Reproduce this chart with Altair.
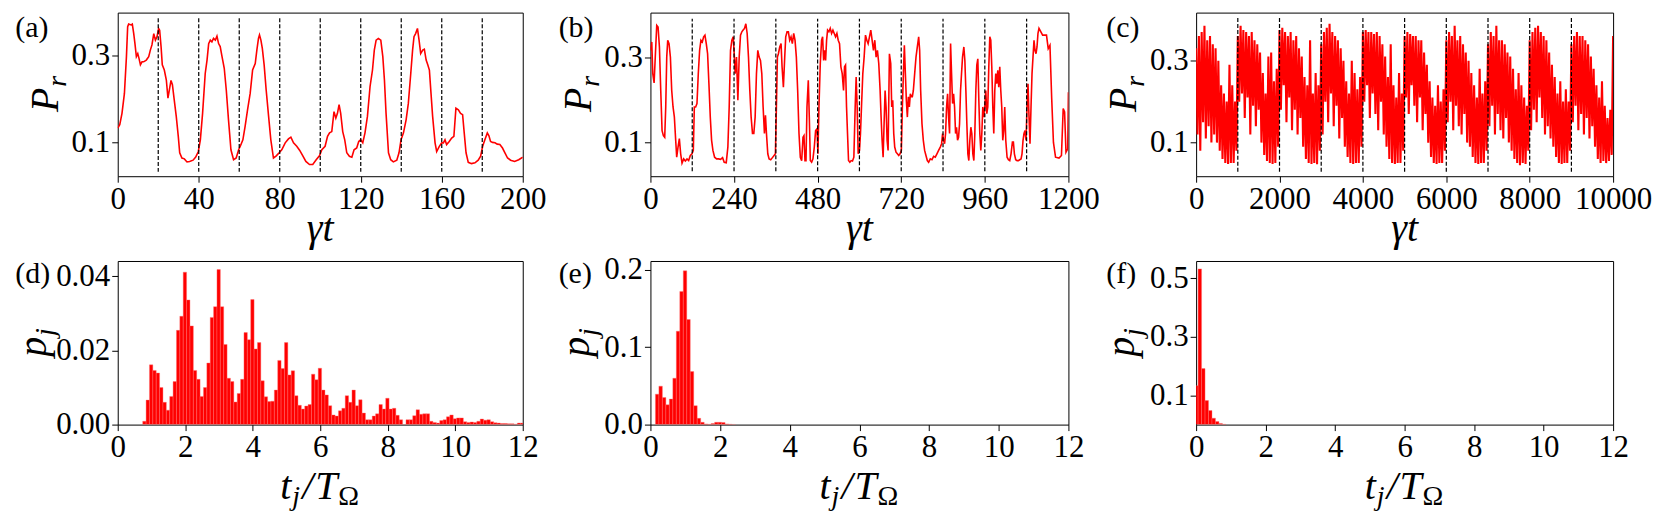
import altair as alt
import numpy as np
import pandas as pd

FONT = "Liberation Serif"
RED = "#ff0000"

# ---------------- (a) P_r vs gamma t, 0..200 ----------------
a_t = [0, 1, 2.1, 3.3, 4.3, 4.9, 5.4, 6.6, 7.2, 7.9,
       8.5, 9.2, 9.9, 10.5, 11.2, 12.0, 12.8, 14.1, 15.3, 16.1,
       16.9, 17.8, 18.6, 19.4, 20.2, 20.7, 21.4, 22.0, 23.0, 24.0,
       24.8, 25.5, 26.3, 27.0, 27.9, 28.9, 29.9, 30.6, 31.7, 32.9,
       34.2, 35.5, 37.2, 38.5, 39.8, 40.8, 41.9, 43.2, 44.1, 44.9,
       45.7, 46.5, 47.3, 48.2, 49.0, 49.8, 50.6, 51.5, 52.6, 53.6,
       54.7, 55.9, 57.2, 58.5, 59.7, 60.5, 61.8, 62.9, 64.1, 65.4,
       66.6, 67.9, 68.7, 69.5, 70.0, 70.7, 71.4, 72.3, 73.3, 74.5,
       75.6, 76.9, 78.3, 79.7, 81.0, 82.7, 84.3, 85.5, 86.8, 88.4,
       89.8, 91.4, 92.9, 94.7, 96.3, 98.0, 99.6, 100.8, 102.4, 103.6,
       104.6, 105.7, 106.8, 107.7, 108.5, 109.3, 110.1, 111.1, 112.1, 113.1,
       114.4, 115.6, 116.7, 118.0, 119.0, 120.0, 121.0, 122.1, 123.3, 124.6,
       125.8, 126.7, 127.6, 128.7, 129.9, 130.9, 131.7, 132.5, 133.7, 134.8,
       136.1, 137.8, 138.9, 139.9, 141.1, 142.4, 143.5, 144.7, 145.6, 146.3,
       147.1, 148.0, 148.8, 149.6, 150.6, 151.4, 152.3, 153.1, 153.9, 154.7,
       155.5, 156.7, 157.5, 158.8, 160.0, 160.8, 161.6, 162.4, 163.7, 164.9,
       166.0, 167.0, 168.2, 169.3, 170.3, 171.1, 172.0, 173.1, 174.7, 176.4,
       178.0, 179.2, 180.2, 181.3, 182.5, 183.3, 184.1, 185.1, 186.3, 187.4,
       188.7, 190.0, 191.2, 192.5, 194.0, 196.0, 198.0, 200.0]
a_v = [0.133, 0.141, 0.167, 0.213, 0.298, 0.367, 0.373, 0.371, 0.373, 0.351,
       0.328, 0.298, 0.305, 0.294, 0.279, 0.286, 0.286, 0.290, 0.298, 0.313,
       0.325, 0.351, 0.336, 0.344, 0.363, 0.359, 0.321, 0.279, 0.267, 0.244,
       0.202, 0.221, 0.243, 0.233, 0.198, 0.160, 0.114, 0.076, 0.064, 0.062,
       0.055, 0.056, 0.059, 0.066, 0.079, 0.106, 0.167, 0.259, 0.290, 0.328,
       0.336, 0.332, 0.340, 0.336, 0.345, 0.328, 0.321, 0.298, 0.271, 0.221,
       0.152, 0.083, 0.060, 0.064, 0.083, 0.091, 0.106, 0.137, 0.175, 0.213,
       0.267, 0.282, 0.313, 0.340, 0.348, 0.336, 0.317, 0.279, 0.221, 0.160,
       0.106, 0.064, 0.069, 0.076, 0.083, 0.099, 0.108, 0.112, 0.099, 0.091,
       0.082, 0.069, 0.056, 0.049, 0.049, 0.060, 0.069, 0.083, 0.091, 0.114,
       0.122, 0.125, 0.171, 0.156, 0.167, 0.187, 0.167, 0.125, 0.106, 0.076,
       0.068, 0.066, 0.083, 0.087, 0.102, 0.106, 0.099, 0.122, 0.160, 0.229,
       0.267, 0.313, 0.336, 0.340, 0.336, 0.298, 0.244, 0.167, 0.076, 0.060,
       0.055, 0.059, 0.076, 0.106, 0.122, 0.152, 0.190, 0.259, 0.313, 0.344,
       0.351, 0.363, 0.336, 0.305, 0.313, 0.315, 0.290, 0.279, 0.267, 0.213,
       0.160, 0.099, 0.079, 0.091, 0.099, 0.099, 0.106, 0.095, 0.102, 0.110,
       0.114, 0.179, 0.175, 0.167, 0.164, 0.122, 0.076, 0.054, 0.051, 0.053,
       0.059, 0.068, 0.091, 0.106, 0.122, 0.115, 0.102, 0.100, 0.099, 0.096,
       0.095, 0.087, 0.076, 0.064, 0.059, 0.056, 0.060, 0.066]
a_dash = [20, 40, 60, 80, 100, 120, 140, 160, 180]

# ---------------- (b) P_r vs gamma t, 0..1200 ----------------
b_t = [0, 3.8, 6.7, 10.5, 14.3, 18.1, 21.9, 25.8, 29.6, 33.4,
       37.2, 41, 43.9, 46.8, 49.6, 53.4, 57.3, 61.1, 64.9, 68.7,
       72.5, 75.4, 79.2, 83, 86.8, 90.7, 95.4, 100.2, 105, 109.7,
       114.5, 119.3, 123.1, 126, 129.8, 133.6, 137.4, 141.2, 145, 148.9,
       152.7, 156.5, 160.3, 164.1, 167.9, 171.8, 175.6, 179.4, 184.2, 189.9,
       195.6, 201.3, 207.1, 211.8, 217.6, 222.3, 226.1, 229.9, 233.8, 237.6,
       240.5, 243.3, 247.1, 251, 254.8, 258.6, 262.4, 266.2, 270, 273.9,
       277.7, 281.5, 285.3, 289.1, 293, 296.8, 300.6, 304.4, 308.2, 312.1,
       315.9, 319.7, 323.5, 327.3, 330.2, 333.1, 336.9, 340.7, 345.4, 350.2,
       355, 358.8, 361.6, 364.5, 367.4, 371.2, 375, 377.9, 381.7, 385.5,
       388.4, 392.2, 396, 399.8, 403.6, 407.4, 411.3, 415.1, 418.9, 422.7,
       426.5, 430.3, 434.2, 438, 440.8, 443.7, 446.6, 449.4, 453.2, 456.1,
       459, 462.8, 466.6, 470.4, 474.2, 478, 480.9, 483.8, 487.6, 491.4,
       494.3, 497.2, 500, 502.9, 505.7, 508.6, 512.4, 516.2, 520, 523.9,
       527.7, 531.5, 535.3, 539.1, 542.9, 546.8, 550.6, 554.4, 557.2, 560.1,
       563, 565.8, 568.7, 572.5, 576.3, 580.1, 584, 587.8, 590.6, 593.5,
       596.4, 600.2, 603, 605.9, 609.7, 613.5, 617.4, 621.2, 625, 628.8,
       632.6, 636.4, 640.3, 644.1, 647.9, 651.7, 655.5, 659.4, 662.2, 665.1,
       668, 670.8, 673.7, 676.5, 679.4, 682.3, 686.1, 689.9, 692.7, 695.6,
       698.5, 701.3, 705.1, 709, 712.8, 716.6, 720.4, 723.3, 726.2, 729,
       731.9, 734.7, 737.6, 740.5, 743.3, 746.2, 749.1, 751.9, 754.8, 758.6,
       762.4, 766.2, 770.1, 772.9, 775.8, 779.6, 783.4, 787.2, 791, 794.9,
       798.7, 803.4, 808.2, 813, 817.7, 822.5, 827.3, 832.1, 835.9, 838.8,
       841.6, 844.5, 847.3, 850.2, 853.1, 855.9, 858.8, 861.7, 864.5, 867.4,
       870.3, 873.1, 876, 878.8, 881.7, 884.6, 887.4, 890.3, 893.1, 896,
       899.8, 902.7, 905.6, 908.4, 911.3, 914.1, 917, 919.9, 922.7, 925.6,
       928.5, 931.3, 934.2, 937, 939.9, 942.8, 945.6, 948.5, 951.4, 954.2,
       957.1, 960, 962.8, 965.7, 968.5, 971.4, 974.3, 977.1, 980, 982.9,
       985.7, 988.6, 991.4, 994.3, 997.2, 1000, 1002.9, 1005.8, 1008.6, 1011.5,
       1014.3, 1017.2, 1020.1, 1023.9, 1027.7, 1031.5, 1035.3, 1039.2, 1042, 1044.9,
       1048.7, 1052.5, 1056.3, 1060.1, 1064, 1066.8, 1069.7, 1072.5, 1075.4, 1078.3,
       1081.1, 1084, 1086.9, 1089.7, 1092.6, 1095.5, 1098.3, 1101.2, 1104, 1106.9,
       1109.8, 1112.6, 1115.5, 1126, 1137, 1142, 1147, 1152, 1157, 1163,
       1173, 1180, 1185, 1189, 1193, 1198, 1200]
b_v = [0.318, 0.338, 0.263, 0.241, 0.310, 0.377, 0.373, 0.326, 0.223, 0.128,
       0.116, 0.112, 0.184, 0.302, 0.342, 0.334, 0.302, 0.223, 0.184, 0.160,
       0.105, 0.065, 0.089, 0.109, 0.073, 0.051, 0.061, 0.056, 0.061, 0.057,
       0.069, 0.073, 0.081, 0.184, 0.184, 0.192, 0.263, 0.318, 0.342, 0.338,
       0.350, 0.354, 0.334, 0.310, 0.239, 0.160, 0.105, 0.081, 0.065, 0.061,
       0.061, 0.060, 0.064, 0.053, 0.052, 0.089, 0.184, 0.318, 0.342, 0.350,
       0.310, 0.263, 0.302, 0.200, 0.302, 0.354, 0.362, 0.366, 0.370, 0.381,
       0.358, 0.302, 0.223, 0.160, 0.121, 0.121, 0.160, 0.263, 0.318, 0.302,
       0.294, 0.263, 0.184, 0.121, 0.164, 0.121, 0.073, 0.061, 0.059, 0.064,
       0.069, 0.073, 0.184, 0.302, 0.310, 0.326, 0.334, 0.279, 0.231, 0.302,
       0.350, 0.362, 0.362, 0.342, 0.350, 0.334, 0.358, 0.342, 0.302, 0.223,
       0.121, 0.065, 0.057, 0.112, 0.116, 0.057, 0.057, 0.184, 0.247, 0.160,
       0.057, 0.053, 0.061, 0.089, 0.128, 0.132, 0.073, 0.184, 0.287, 0.342,
       0.350, 0.294, 0.318, 0.294, 0.342, 0.366, 0.362, 0.370, 0.358, 0.366,
       0.358, 0.350, 0.358, 0.342, 0.334, 0.279, 0.263, 0.223, 0.279, 0.283,
       0.184, 0.121, 0.057, 0.053, 0.057, 0.056, 0.065, 0.184, 0.255, 0.184,
       0.073, 0.081, 0.121, 0.184, 0.263, 0.302, 0.354, 0.342, 0.334, 0.350,
       0.366, 0.342, 0.318, 0.342, 0.302, 0.318, 0.287, 0.223, 0.160, 0.105,
       0.065, 0.144, 0.223, 0.184, 0.105, 0.081, 0.310, 0.287, 0.184, 0.200,
       0.121, 0.089, 0.077, 0.073, 0.069, 0.073, 0.081, 0.184, 0.263, 0.330,
       0.263, 0.200, 0.160, 0.208, 0.184, 0.215, 0.208, 0.208, 0.223, 0.263,
       0.302, 0.326, 0.350, 0.318, 0.223, 0.144, 0.105, 0.081, 0.069, 0.057,
       0.053, 0.061, 0.059, 0.067, 0.065, 0.073, 0.081, 0.089, 0.097, 0.121,
       0.105, 0.097, 0.121, 0.184, 0.215, 0.160, 0.121, 0.334, 0.263, 0.192,
       0.215, 0.184, 0.121, 0.136, 0.105, 0.112, 0.144, 0.223, 0.263, 0.302,
       0.326, 0.294, 0.223, 0.144, 0.073, 0.057, 0.105, 0.136, 0.121, 0.073,
       0.057, 0.121, 0.223, 0.283, 0.298, 0.200, 0.121, 0.081, 0.121, 0.184,
       0.160, 0.184, 0.223, 0.168, 0.184, 0.279, 0.350, 0.342, 0.279, 0.184,
       0.121, 0.223, 0.263, 0.239, 0.271, 0.231, 0.279, 0.223, 0.184, 0.105,
       0.128, 0.184, 0.105, 0.065, 0.059, 0.057, 0.073, 0.101, 0.101, 0.073,
       0.059, 0.057, 0.057, 0.059, 0.061, 0.073, 0.105, 0.121, 0.128, 0.105,
       0.184, 0.239, 0.160, 0.097, 0.184, 0.263, 0.302, 0.342, 0.318, 0.310,
       0.326, 0.358, 0.370, 0.354, 0.354, 0.322, 0.330, 0.204, 0.100, 0.065,
       0.063, 0.069, 0.180, 0.172, 0.077, 0.085, 0.219]
b_dash = [120, 240, 360, 480, 600, 720, 840, 960, 1080]

# ---------------- (c) P_r vs gamma t, 0..10000 (fast oscillation, read per cycle) ----------------
c_cycle0 = [0.33, 0.12, 0.36, 0.08, 0.37, 0.15, 0.385, 0.11, 0.35, 0.14, 0.36, 0.10, 0.34, 0.12, 0.33,
            0.10, 0.30, 0.08, 0.24, 0.06, 0.22, 0.05, 0.20, 0.048, 0.29, 0.05, 0.24, 0.05, 0.20, 0.08]
c_cycle1 = [0.36, 0.20, 0.385, 0.22, 0.375, 0.16, 0.37, 0.21, 0.36, 0.12, 0.37, 0.19, 0.35, 0.14, 0.34,
            0.18, 0.32, 0.10, 0.27, 0.07, 0.22, 0.055, 0.31, 0.05, 0.32, 0.048, 0.25, 0.05, 0.28, 0.09]
c_cycle2 = [0.375, 0.18, 0.38, 0.24, 0.37, 0.15, 0.36, 0.21, 0.37, 0.13, 0.35, 0.18, 0.36, 0.12, 0.33,
            0.16, 0.31, 0.09, 0.26, 0.06, 0.24, 0.05, 0.35, 0.048, 0.22, 0.05, 0.27, 0.047, 0.24, 0.08]
c_cycle3 = [0.34, 0.12, 0.37, 0.20, 0.38, 0.15, 0.39, 0.22, 0.37, 0.14, 0.36, 0.19, 0.35, 0.11, 0.33,
            0.16, 0.30, 0.09, 0.25, 0.065, 0.22, 0.05, 0.30, 0.048, 0.27, 0.05, 0.23, 0.05, 0.26, 0.09]
c_cycle4 = [0.37, 0.20, 0.375, 0.24, 0.37, 0.16, 0.37, 0.22, 0.365, 0.17, 0.37, 0.13, 0.36, 0.20, 0.34,
            0.12, 0.31, 0.09, 0.26, 0.06, 0.34, 0.05, 0.24, 0.048, 0.21, 0.05, 0.27, 0.05, 0.22, 0.08]
c_cycle5 = [0.36, 0.21, 0.37, 0.17, 0.365, 0.24, 0.36, 0.19, 0.36, 0.15, 0.35, 0.21, 0.35, 0.13, 0.32,
            0.17, 0.29, 0.10, 0.25, 0.065, 0.21, 0.05, 0.19, 0.048, 0.24, 0.05, 0.20, 0.05, 0.23, 0.08]
c_cycle6 = [0.35, 0.15, 0.37, 0.20, 0.36, 0.13, 0.385, 0.19, 0.35, 0.14, 0.36, 0.12, 0.34, 0.17, 0.32,
            0.10, 0.30, 0.09, 0.27, 0.065, 0.24, 0.05, 0.21, 0.048, 0.28, 0.05, 0.22, 0.05, 0.25, 0.08]
c_cycle7 = [0.34, 0.14, 0.37, 0.19, 0.36, 0.12, 0.385, 0.17, 0.35, 0.13, 0.35, 0.11, 0.34, 0.16, 0.32,
            0.10, 0.31, 0.08, 0.28, 0.06, 0.23, 0.05, 0.27, 0.045, 0.24, 0.05, 0.21, 0.048, 0.19, 0.08]
c_cycle8 = [0.35, 0.13, 0.37, 0.18, 0.38, 0.15, 0.385, 0.21, 0.37, 0.16, 0.36, 0.12, 0.35, 0.14, 0.32,
            0.11, 0.29, 0.09, 0.26, 0.065, 0.22, 0.05, 0.25, 0.048, 0.20, 0.05, 0.23, 0.05, 0.20, 0.08]
c_cycle9 = [0.34, 0.15, 0.36, 0.19, 0.37, 0.13, 0.36, 0.17, 0.36, 0.12, 0.35, 0.16, 0.34, 0.11, 0.31,
            0.14, 0.28, 0.09, 0.24, 0.06, 0.21, 0.05, 0.25, 0.055, 0.19, 0.05, 0.16, 0.055, 0.18, 0.07]
c_end = [0.36]
c_dash = [1000, 2000, 3000, 4000, 5000, 6000, 7000, 8000, 9000]

# ---------------- (d)(e)(f) histograms p_j vs t_j/T_Omega (bin width 0.1) ----------------
d_start = 0.74
d_p = [0.0009, 0.0066, 0.0161, 0.0146, 0.0139, 0.0100, 0.0060, 0.0039, 0.0076, 0.0116,
       0.0254, 0.0292, 0.0411, 0.0336, 0.0266, 0.0146, 0.0122, 0.0076, 0.0100, 0.0166,
       0.0289, 0.0318, 0.0418, 0.0318, 0.0216, 0.0125, 0.0116, 0.0061, 0.0084, 0.0122,
       0.0248, 0.0229, 0.0337, 0.0204, 0.0221, 0.0118, 0.0075, 0.0062, 0.0063, 0.0093,
       0.0173, 0.0151, 0.0221, 0.0134, 0.0145, 0.0078, 0.0052, 0.0042, 0.0050, 0.0054,
       0.0136, 0.0121, 0.0152, 0.0093, 0.0080, 0.0051, 0.0026, 0.0023, 0.0037, 0.0044,
       0.0078, 0.0060, 0.0093, 0.0051, 0.0067, 0.0031, 0.0013, 0.0013, 0.0023, 0.0029,
       0.0054, 0.0042, 0.0071, 0.0042, 0.0044, 0.0025, 0.0013, 0.0000, 0.0013, 0.0013,
       0.0024, 0.0040, 0.0028, 0.0029, 0.0029, 0.0009, 0.0006, 0.0004, 0.0011, 0.0013,
       0.0021, 0.0026, 0.0016, 0.0018, 0.0018, 0.0008, 0.0006, 0.0007, 0.0006, 0.0009,
       0.0015, 0.0012, 0.0013, 0.0008, 0.0005, 0.0004, 0.0003, 0.0003, 0.0002, 0.0002,
       0.0001, 0.0004, 0.0004]
e_start = 0.143
e_p = [0.0393, 0.0496, 0.0350, 0.0256, 0.0329, 0.0598, 0.1205, 0.1718, 0.1983, 0.1355,
       0.0684, 0.0244, 0.0081, 0.0030, 0.0009, 0.0004, 0.0013, 0.0030, 0.0030, 0.0026,
       0.0009, 0.0004, 0.0002]
f_start = -0.043
f_p = [0.133, 0.532, 0.1915, 0.082, 0.048, 0.022, 0.0107, 0.004, 0.001]
bin_w = 0.1

# ---------------- layout constants ----------------
H = 164
WA, WB, WC = 406, 419, 418
TICK = 31
TITLE = 40
SUB = 28
LAB = 30

AX = dict(labelFont=FONT, labelFontSize=TICK, labelColor="black", tickColor="black",
          tickSize=6, tickWidth=1, domain=False, grid=False, labelFlush=False,
          labelOverlap=False, title=None)


def txt(s, x, y, size, style="normal", angle=0, align="left", baseline="alphabetic"):
    return alt.Chart(pd.DataFrame({"s": [s]})).mark_text(
        font=FONT, fontSize=size, fontStyle=style, angle=angle, align=align,
        baseline=baseline, color="black").encode(
        text="s:N", x=alt.value(x), y=alt.value(y))


def ytitle(main, sub, bx, w_main, w_sub):
    start = H / 2 + (w_main + w_sub) / 2
    return [txt(main, bx, start, TITLE, "italic", angle=270),
            txt(sub, bx + 8, start - w_main - 0.8, SUB, "italic", angle=270)]


def xtitle_top(W):
    return [txt("γt", W / 2, H + 65, TITLE, "italic", align="center")]


def xtitle_bottom(W):
    sx = W / 2 - 40
    by = H + 75
    return [txt("t", sx, by, TITLE, "italic"),
            txt("j", sx + 12, by + 6, SUB, "italic"),
            txt("/", sx + 22, by, TITLE, "italic"),
            txt("T", sx + 35, by, TITLE, "italic"),
            txt("Ω", sx + 58, by + 6, SUB)]


def line_panel(t, v, dashes, dash_y, W, xdom, xvals, ydom, label, lx, ly, lw):
    df = pd.DataFrame({"x": t, "v": v})
    xs = alt.Scale(domain=xdom, nice=False, zero=False)
    ys = alt.Scale(domain=ydom, nice=False, zero=False)
    xax = alt.Axis(values=xvals, format="d", labelPadding=2, **AX)
    yax = alt.Axis(values=[0.1, 0.3], format=".1f", labelPadding=2, **AX)
    line = alt.Chart(df).mark_line(color=RED, strokeWidth=lw, clip=True).encode(
        x=alt.X("x:Q", scale=xs, axis=xax), y=alt.Y("v:Q", scale=ys, axis=yax))
    ddf = pd.DataFrame({"x": dashes, "y1": [dash_y[0]] * len(dashes), "y2": [dash_y[1]] * len(dashes)})
    rules = alt.Chart(ddf).mark_rule(color="black", strokeDash=[4, 2], strokeWidth=1.2).encode(
        x=alt.X("x:Q", scale=xs, axis=xax), y=alt.Y("y1:Q", scale=ys, axis=yax), y2="y2:Q")
    layers = [line, rules] + xtitle_top(W) + ytitle("P", "r", -60, 24.4, 10.9)
    layers.append(txt(label, lx, ly, LAB, baseline="top"))
    return alt.layer(*layers).properties(width=W, height=H)


def hist_panel(start, p, W, ydom, yvals, yfmt, label, lx, ly, ybx):
    left = [start + k * bin_w for k in range(len(p))]
    df = pd.DataFrame({"x0": left, "x1": [l + bin_w for l in left], "p": p})
    xs = alt.Scale(domain=[0, 12], nice=False, zero=False)
    ys = alt.Scale(domain=ydom, nice=False, zero=False)
    bars = alt.Chart(df).mark_bar(color=RED, stroke="#ff7070", strokeWidth=0.4, clip=True).encode(
        x=alt.X("x0:Q", scale=xs, axis=alt.Axis(values=list(range(0, 13, 2)), format="d", labelPadding=2, **AX)),
        x2="x1:Q",
        y=alt.Y("p:Q", scale=ys, axis=alt.Axis(values=yvals, format=yfmt, labelPadding=2, **AX)),
        y2=alt.datum(0))
    layers = [bars] + xtitle_bottom(W) + ytitle("p", "j", ybx, 20.0, 7.8)
    layers.append(txt(label, lx, ly, LAB, baseline="top"))
    return alt.layer(*layers).properties(width=W, height=H)


c_v = (c_cycle0 + c_cycle1 + c_cycle2 + c_cycle3 + c_cycle4 + c_cycle5 + c_cycle6 +
       c_cycle7 + c_cycle8 + c_cycle9 + c_end)
c_t = list(np.linspace(0, 10000, len(c_v)))

pa = line_panel(a_t, a_v, a_dash, [0.032, 0.390], WA, [0, 200], list(range(0, 201, 40)),
                [0.022, 0.3995], "(a)", -102.7, 0, 1.6)
pb = line_panel(b_t, b_v, b_dash, [0.032, 0.393], WB, [0, 1200], list(range(0, 1201, 240)),
                [0.020, 0.4074], "(b)", -92, 0, 1.6)
pc = line_panel(c_t, c_v, c_dash, [0.029, 0.405], WC, [0, 10000], list(range(0, 10001, 2000)),
                [0.018, 0.4173], "(c)", -90, 0, 2.1)
pd_ = hist_panel(d_start, d_p, WA, [0, 0.0441], [0.0, 0.02, 0.04], ".2f", "(d)", -102.7, -2, -72)
pe = hist_panel(e_start, e_p, WB, [0, 0.211], [0.0, 0.1, 0.2], ".1f", "(e)", -92, -2, -62)
pf = hist_panel(f_start, f_p, WC, [0, 0.559], [0.1, 0.3, 0.5], ".1f", "(f)", -90, -2, -62)

chart = alt.concat(pa, pb, pc, pd_, pe, pf, columns=3,
                   spacing={"row": 85, "column": 128}, bounds="flush",
                   align={"row": "all", "column": "each"}).properties(
    padding={"left": 5, "top": 3, "right": 0, "bottom": 0}
).configure_view(stroke="black", strokeWidth=1)

chart.save("out.html", embed_options={"renderer": "svg", "actions": False})
